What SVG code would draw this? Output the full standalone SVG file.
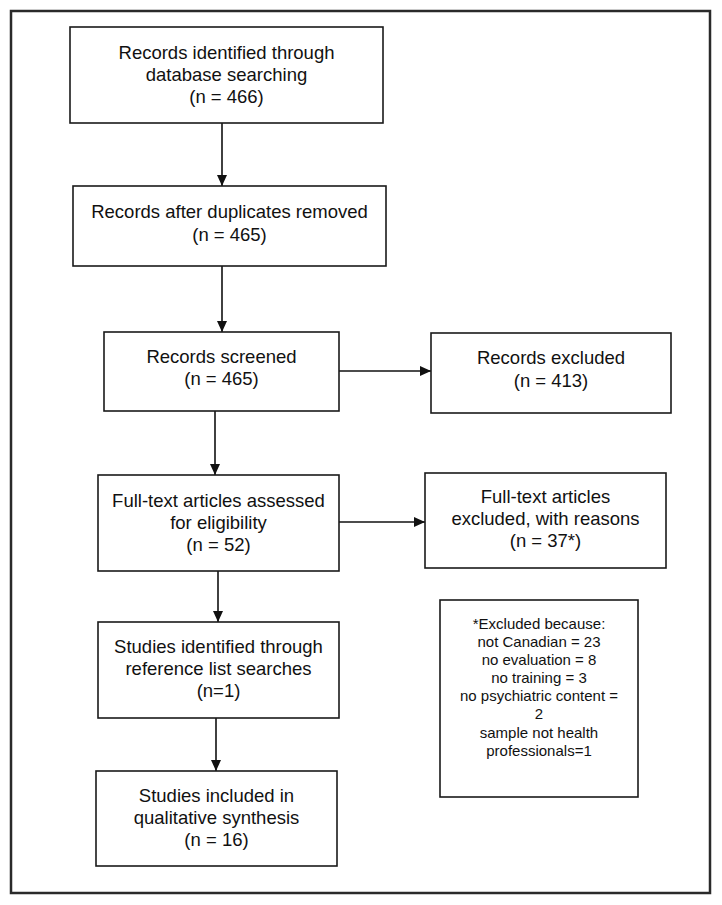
<svg xmlns="http://www.w3.org/2000/svg" width="722" height="905" viewBox="0 0 722 905">
<defs>
<style>
.box{fill:#fff;stroke:#1a1a1a;stroke-width:1.6}
.t{font-family:"Liberation Sans",Arial,sans-serif;font-size:18.5px;fill:#111;text-anchor:middle}
.s{font-family:"Liberation Sans",Arial,sans-serif;font-size:15px;fill:#111;text-anchor:middle}
.c{stroke:#111;stroke-width:1.6;fill:none}
</style>
<marker id="ah" viewBox="0 0 11 11" refX="11" refY="5.5" markerWidth="11" markerHeight="11" markerUnits="userSpaceOnUse" orient="auto">
<path d="M0,0.5 L11,5.5 L0,10.5 Z" fill="#111"/>
</marker>
</defs>
<rect width="722" height="905" fill="#fff"/>
<rect id="frame" x="11" y="11" width="699" height="882" fill="none" stroke="#2a2a2a" stroke-width="2.5"/>
<g id="connectors">
<line class="c" x1="222" y1="123" x2="222" y2="186" marker-end="url(#ah)"/>
<line class="c" x1="222" y1="266" x2="222" y2="332" marker-end="url(#ah)"/>
<line class="c" x1="339" y1="371" x2="431" y2="371" marker-end="url(#ah)"/>
<line class="c" x1="215" y1="411" x2="215" y2="475" marker-end="url(#ah)"/>
<line class="c" x1="339" y1="522" x2="425" y2="522" marker-end="url(#ah)"/>
<line class="c" x1="218" y1="571" x2="218" y2="622" marker-end="url(#ah)"/>
<line class="c" x1="216" y1="718" x2="216" y2="771" marker-end="url(#ah)"/>
</g>
<g id="identified">
<rect class="box" x="70" y="27" width="313" height="96"/>
<text class="t" x="226.5" y="59">Records identified through</text>
<text class="t" x="226.5" y="81">database searching</text>
<text class="t" x="226.5" y="103">(n = 466)</text>
</g>
<g id="duplicates">
<rect class="box" x="73" y="186" width="313" height="80"/>
<text class="t" x="229.5" y="218">Records after duplicates removed</text>
<text class="t" x="229.5" y="241">(n = 465)</text>
</g>
<g id="screened">
<rect class="box" x="104" y="332" width="235" height="79"/>
<text class="t" x="221.5" y="363">Records screened</text>
<text class="t" x="221.5" y="385">(n = 465)</text>
</g>
<g id="excluded">
<rect class="box" x="431" y="333" width="240" height="80"/>
<text class="t" x="551" y="364">Records excluded</text>
<text class="t" x="551" y="387">(n = 413)</text>
</g>
<g id="fulltext">
<rect class="box" x="98" y="475" width="241" height="96"/>
<text class="t" x="218.5" y="507">Full-text articles assessed</text>
<text class="t" x="218.5" y="529">for eligibility</text>
<text class="t" x="218.5" y="551">(n = 52)</text>
</g>
<g id="fulltext-excluded">
<rect class="box" x="425" y="473" width="241" height="95"/>
<text class="t" x="545.5" y="503">Full-text articles</text>
<text class="t" x="545.5" y="525">excluded, with reasons</text>
<text class="t" x="545.5" y="547">(n = 37*)</text>
</g>
<g id="reference">
<rect class="box" x="98" y="622" width="241" height="96"/>
<text class="t" x="218.5" y="653">Studies identified through</text>
<text class="t" x="218.5" y="675">reference list searches</text>
<text class="t" x="218.5" y="697">(n=1)</text>
</g>
<g id="included">
<rect class="box" x="96" y="771" width="241" height="95"/>
<text class="t" x="216.5" y="802">Studies included in</text>
<text class="t" x="216.5" y="824">qualitative synthesis</text>
<text class="t" x="216.5" y="846">(n = 16)</text>
</g>
<g id="reasons">
<rect class="box" x="440" y="600" width="198" height="197"/>
<text class="s" x="539" y="629">*Excluded because:</text>
<text class="s" x="539" y="647">not Canadian = 23</text>
<text class="s" x="539" y="665">no evaluation = 8</text>
<text class="s" x="539" y="683">no training = 3</text>
<text class="s" x="539" y="701">no psychiatric content =</text>
<text class="s" x="539" y="719">2</text>
<text class="s" x="539" y="738">sample not health</text>
<text class="s" x="539" y="756">professionals=1</text>
</g>
</svg>
